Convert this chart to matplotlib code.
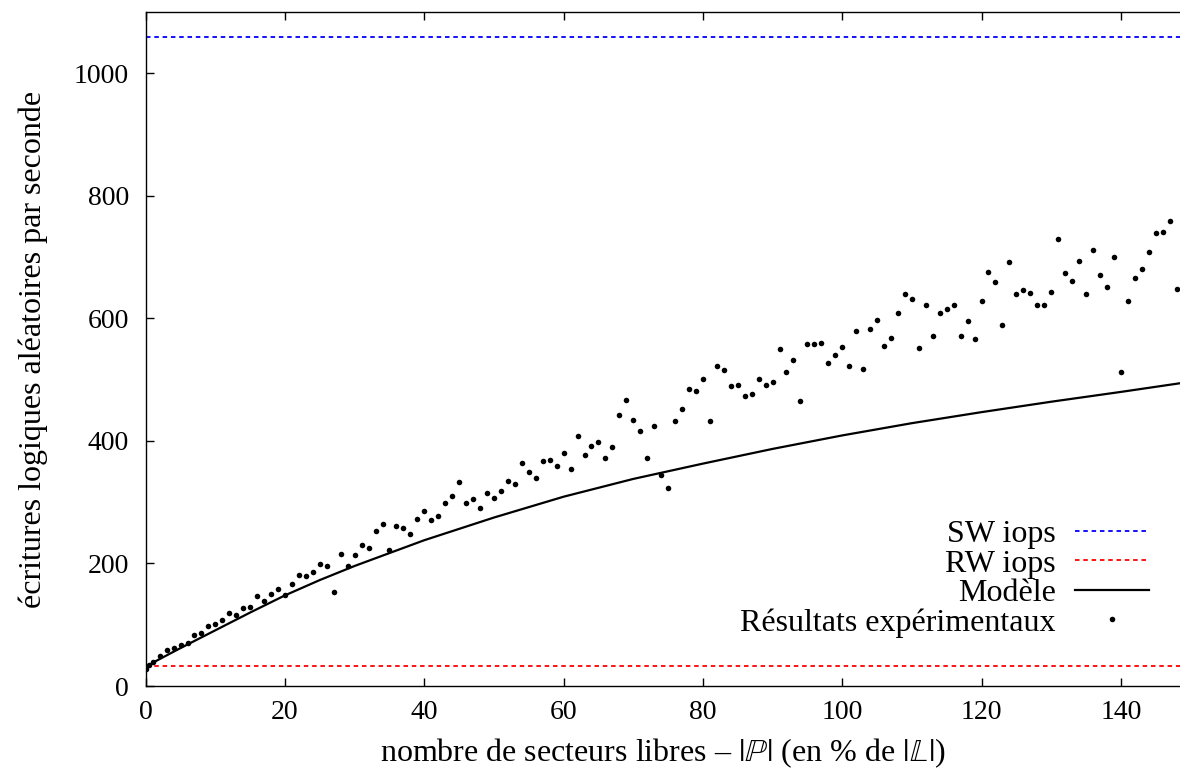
import matplotlib
matplotlib.use("Agg")
import matplotlib.pyplot as plt
import numpy as np

plt.rcParams['font.family'] = ['Liberation Serif', 'DejaVu Serif']
plt.rcParams['mathtext.fontset'] = 'stix'

exp_x = [0, 0.5, 1] + list(range(2, 150))
exp_y = [28, 34, 40,
         49, 59, 61.5, 67, 70.7, 82.7, 86.5, 97.9, 100.6, 108,
         119.6, 115.8, 128, 129, 146.8, 138.7, 150.6, 158, 148.4, 166.4,
         181, 180, 185.5, 198.5, 195.8, 153.3, 215.8, 195.8, 213.7, 230,
         225, 253, 263.7, 222.4, 260.5, 258, 248, 273, 286, 271.3,
         277.8, 299, 310, 333.3, 299, 305.6, 290.4, 315.4, 307.2, 318.6,
         334, 330, 364.3, 348.6, 338.8, 368, 368.7, 359.4, 380, 354.5,
         407.3, 377.3, 391, 398.6, 371.4, 389.9, 441.6, 466.6, 434, 417,
         371.4, 423.6, 344.7, 322.5, 432.8, 451.9, 485, 481.2, 500.8, 432.3,
         523, 515.5, 489.9, 490.5, 473, 476.8, 500.8, 491.5, 496.4, 550.3,
         512.8, 531.8, 465.4, 559, 557.4, 559.5, 527.4, 540, 553.5, 522.5,
         579, 516.6, 581.9, 596.6, 554.7, 567.2, 609, 640, 631.3, 551.4,
         622, 570.5, 608.5, 615.5, 622, 572, 595.4, 566, 627.6, 675.9,
         659, 590, 691.7, 639, 647, 641, 621.5, 621.5, 642.7, 730.3,
         673.7, 661.8, 693.8, 639, 711.7, 671, 651.4, 700.4, 511.7, 628.6,
         666, 680.3, 708.5, 739, 741.7, 759, 648, 719]

# model curve
model_x = [0, 1, 5, 10, 15, 20, 25, 30, 40, 50, 60, 70, 80, 90, 100, 110, 120, 130, 140, 149]
model_y = [29, 38, 62, 91, 120, 148, 173, 196, 238, 275, 309, 338, 363, 387, 409, 429, 447, 464, 480, 495]

sw_iops = 1060
rw_iops = 32

fig = plt.figure(figsize=(11.8, 7.71), dpi=100)
ax = fig.add_axes([0.1235, 0.1102, 0.8765, 0.8742])

ax.axhline(sw_iops, color='#0000ff', lw=1.3, dashes=(2.5, 2.1), label='SW iops')
ax.axhline(rw_iops, color='#ff0000', lw=1.3, dashes=(2.5, 2.1), label='RW iops')
ax.plot(model_x, model_y, color='k', lw=1.6, label='Modèle')
ax.plot(exp_x, exp_y, 'o', color='k', ms=4.0, mew=0, label='Résultats expérimentaux')

ax.set_xlim(0, 148.5)
ax.set_ylim(0, 1100)
ax.set_xticks(np.arange(0, 141, 20))
ax.set_yticks(np.arange(0, 1001, 200))
ax.tick_params(direction='in', length=6, width=1, labelsize=20, top=True, right=False)
ax.tick_params(axis='y', pad=12)
ax.tick_params(axis='x', pad=10)
ax.spines['right'].set_visible(False)
for s in ['left', 'bottom', 'top']:
    ax.spines[s].set_linewidth(1.0)

ax.set_xlabel(r'nombre de secteurs libres – $|\mathbb{P}|$ (en % de $|\mathbb{L}|$)', fontsize=23, labelpad=8)
ax.set_ylabel('écritures logiques aléatoires par seconde', fontsize=23, labelpad=19)

ax.legend(loc='lower right', bbox_to_anchor=(0.982, 0.053), frameon=False, markerfirst=False,
          fontsize=23, handlelength=2.3, handletextpad=0.6, labelspacing=0.0,
          borderaxespad=0, numpoints=1)

fig.savefig('out.png', dpi=100)
